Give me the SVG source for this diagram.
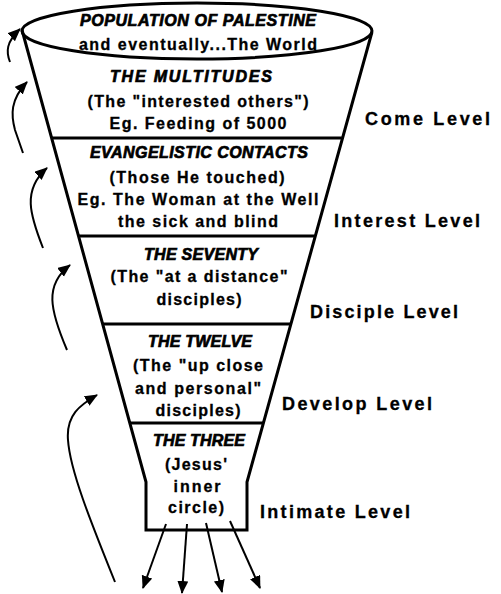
<svg xmlns="http://www.w3.org/2000/svg" width="501" height="594" viewBox="0 0 501 594">
<style>
.bg{fill:#fff}
.ln{fill:none;stroke:#000;stroke-width:3;stroke-linejoin:miter}
.cn{fill:none;stroke:#000;stroke-width:2}
.hd{font-family:"Liberation Sans",Arial,sans-serif;font-weight:bold;font-style:italic;font-size:16px;fill:#000;stroke:#000;stroke-width:0.7;text-anchor:middle}
.tx{font-family:"Liberation Sans",Arial,sans-serif;font-weight:bold;font-size:16px;fill:#000;stroke:#000;stroke-width:0.3;text-anchor:middle}
.lv{font-family:"Liberation Sans",Arial,sans-serif;font-weight:bold;font-size:18px;fill:#000;stroke:#000;stroke-width:0.3}
</style>
<defs>
<marker id="ah" markerUnits="userSpaceOnUse" markerWidth="15" markerHeight="12" refX="12" refY="5.5" orient="auto">
<path d="M0,0 L13,5.5 L0,11 z" fill="#000"/>
</marker>
</defs>
<rect class="bg" x="0" y="0" width="501" height="594"/>

<g id="funnel">
<path class="ln" d="M22 30 L146 482 L146 530 L247 530 L247 482 L372 32"/>
<ellipse class="ln" cx="197" cy="31" rx="175" ry="28"/>
<line class="ln" x1="51.6" y1="138" x2="341.8" y2="138"/>
<line class="ln" x1="78.5" y1="236" x2="314.8" y2="236"/>
<line class="ln" x1="102.6" y1="324" x2="290.5" y2="324"/>
<line class="ln" x1="129.8" y1="423" x2="263.2" y2="423"/>
</g>

<g id="population">
<text class="hd" x="198" y="26" textLength="236" lengthAdjust="spacing">POPULATION OF PALESTINE</text>
<text class="tx" x="198" y="50" textLength="238" lengthAdjust="spacing">and eventually...The World</text>
</g>

<g id="multitudes">
<text class="hd" x="191" y="82" textLength="162" lengthAdjust="spacing">THE MULTITUDES</text>
<text class="tx" x="198" y="107" textLength="221" lengthAdjust="spacing">(The "interested others")</text>
<text class="tx" x="198" y="129" textLength="177" lengthAdjust="spacing">Eg. Feeding of 5000</text>
</g>

<g id="evangelistic">
<text class="hd" x="199" y="158" textLength="218" lengthAdjust="spacing">EVANGELISTIC CONTACTS</text>
<text class="tx" x="197" y="183" textLength="175" lengthAdjust="spacing">(Those He touched)</text>
<text class="tx" x="198" y="205" textLength="241" lengthAdjust="spacing">Eg. The Woman at the Well</text>
<text class="tx" x="198" y="227" textLength="160" lengthAdjust="spacing">the sick and blind</text>
</g>

<g id="seventy">
<text class="hd" x="201" y="260" textLength="114" lengthAdjust="spacing">THE SEVENTY</text>
<text class="tx" x="199" y="282" textLength="177" lengthAdjust="spacing">(The "at a distance"</text>
<text class="tx" x="199" y="305" textLength="85" lengthAdjust="spacing">disciples)</text>
</g>

<g id="twelve">
<text class="hd" x="200" y="347" textLength="104" lengthAdjust="spacing">THE TWELVE</text>
<text class="tx" x="198" y="371" textLength="130" lengthAdjust="spacing">(The "up close</text>
<text class="tx" x="198" y="394" textLength="126" lengthAdjust="spacing">and personal"</text>
<text class="tx" x="198" y="416" textLength="85" lengthAdjust="spacing">disciples)</text>
</g>

<g id="three">
<text class="hd" x="199" y="446" textLength="92" lengthAdjust="spacing">THE THREE</text>
<text class="tx" x="196" y="470" textLength="62" lengthAdjust="spacing">(Jesus'</text>
<text class="tx" x="197" y="492" textLength="47" lengthAdjust="spacing">inner</text>
<text class="tx" x="196" y="513" textLength="56" lengthAdjust="spacing">circle)</text>
</g>

<g id="levels">
<text class="lv" x="365" y="125" textLength="125" lengthAdjust="spacing">Come Level</text>
<text class="lv" x="334" y="227" textLength="146" lengthAdjust="spacing">Interest Level</text>
<text class="lv" x="310" y="318" textLength="148" lengthAdjust="spacing">Disciple Level</text>
<text class="lv" x="282" y="410" textLength="150" lengthAdjust="spacing">Develop Level</text>
<text class="lv" x="260" y="518" textLength="150" lengthAdjust="spacing">Intimate Level</text>
</g>

<g id="connectors">
<path class="cn" marker-end="url(#ah)" d="M10 62 C6 52, 6 42, 20 29"/>
<path class="cn" marker-end="url(#ah)" d="M23 153 L15 130 C11 115, 10 100, 27 82"/>
<path class="cn" marker-end="url(#ah)" d="M43 248 C30 215, 22 190, 47 168"/>
<path class="cn" marker-end="url(#ah)" d="M67 350 C50 310, 44 285, 70 265"/>
<path class="cn" marker-end="url(#ah)" d="M115 582 C90 520, 70 470, 68 440 C66 415, 80 405, 97 395"/>
<line class="cn" marker-end="url(#ah)" x1="166" y1="524" x2="143" y2="588"/>
<line class="cn" marker-end="url(#ah)" x1="187" y1="524" x2="182" y2="593"/>
<line class="cn" marker-end="url(#ah)" x1="206" y1="523" x2="222" y2="592"/>
<line class="cn" marker-end="url(#ah)" x1="230" y1="521" x2="260" y2="588"/>
</g>
</svg>
